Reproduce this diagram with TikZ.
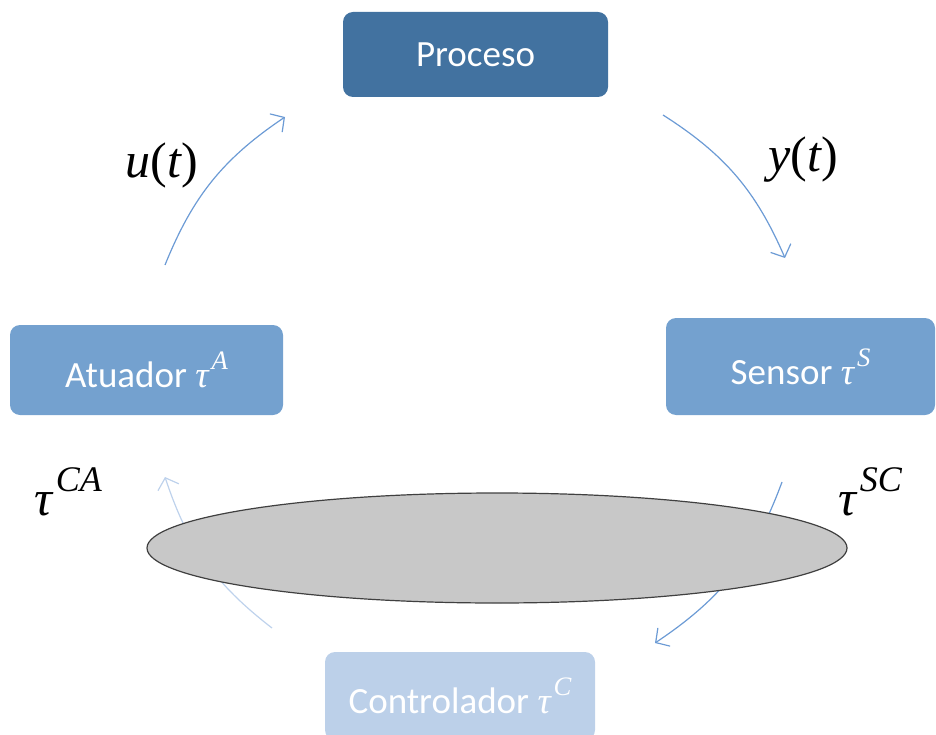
\documentclass[tikz,border=0pt]{standalone}
\usepackage{fontspec}
\setmainfont{Carlito}
\newfontfamily\symfont{Liberation Serif}
\usetikzlibrary{arrows.meta,shapes.geometric}

\definecolor{procfill}{RGB}{66,114,160}
\definecolor{boxfill}{RGB}{116,161,207}
\definecolor{ctrlfill}{RGB}{188,208,233}
\definecolor{flowblue}{RGB}{108,155,213}
\definecolor{flowpale}{RGB}{190,210,236}
\definecolor{netfill}{RGB}{200,200,200}
\definecolor{netline}{RGB}{64,64,64}

% italic symbol with a raised index, sized relative to the surrounding text
\newcommand\tauidx[1]{{\symfont\itshape\char"03C4\kern0.08em\raisebox{0.48em}{\fontsize{0.72\dimexpr\csname f@size\endcsname pt\relax}{1em}\selectfont #1}}}
\newcommand\sig[1]{{\symfont\itshape #1\upshape(\itshape t\upshape)}}

\tikzset{
  block/.style={rectangle, rounded corners=10pt, inner sep=0pt, text=white,
    font=\fontsize{37}{44}\selectfont},
  flow/.style={draw=flowblue, line width=1.2pt,
    -{Straight Barb[length=10pt,width=22pt,line width=1.2pt]}},
  palefl/.style={flow, draw=flowpale},
  sym/.style={inner sep=0pt, font=\fontsize{50}{56}\selectfont},
}

\begin{document}
\begin{tikzpicture}[x=1pt,y=-1pt]
\useasboundingbox (0,0) rectangle (936,735);

% signal flow around the loop
\coordinate (ua) at (165,265);  \coordinate (ub) at (285,117);
\coordinate (ya) at (663,115);  \coordinate (yb) at (785,258);
\coordinate (sa) at (782,482);  \coordinate (sb) at (655,643);
\coordinate (ca) at (272,628);  \coordinate (cb) at (165,477);
\draw[flow]   (ua) to[bend left=17] (ub);
\draw[flow]   (ya) to[bend left=17] (yb);
\draw[flow]   (sa) to[bend left=18] (sb);
\draw[palefl] (ca) to[bend left=17] (cb);

% network
\node[ellipse, draw=netline, line width=1.2pt, fill=netfill, inner sep=0pt,
      minimum width=700, minimum height=110] (net) at (497,548) {};

% blocks
\node[block, fill=procfill, minimum width=265, minimum height=85] (proc) at (475.5,54.5) {Proceso};
\node[block, fill=boxfill, minimum width=273, minimum height=90] (act) at (146.5,370) {Atuador \tauidx{A}};
\node[block, fill=boxfill, minimum width=269, minimum height=97] (sens) at (800.5,366.5) {Sensor \tauidx{S}};
\node[block, fill=ctrlfill, minimum width=270, minimum height=88] (ctrl) at (460,696) {Controlador \tauidx{C}};

% signal and delay labels
\node[sym] (lu)  at (162,165) {\sig{u}};
\node[sym] (ly)  at (803,160) {\sig{y}};
\node[sym] (lca) at (68,492)  {\tauidx{CA}};
\node[sym] (lsc) at (870,492) {\tauidx{SC}};
\end{tikzpicture}
\end{document}
